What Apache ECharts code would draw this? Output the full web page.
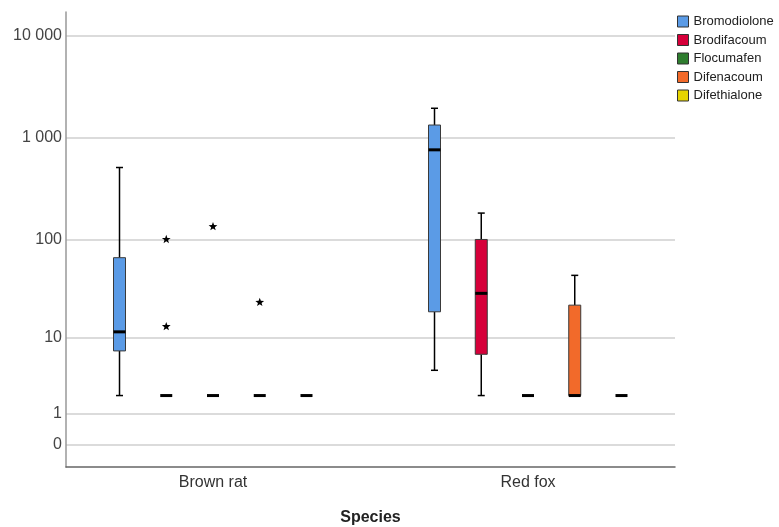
<!DOCTYPE html>
<html>
<head>
<meta charset="utf-8">
<script src="https://cdn.jsdelivr.net/npm/echarts@6/dist/echarts.min.js"></script>
<style>html,body{margin:0;padding:0;background:#fff}#c{width:779px;height:527px}</style>
</head>
<body>
<div id="c"></div>
<script>
// ---- data ----
const species = ['Brown rat', 'Red fox'];
const compounds = ['Bromodiolone', 'Brodifacoum', 'Flocumafen', 'Difenacoum', 'Difethialone'];
const compoundColors = ['#5B9BE6', '#D6003A', '#2F7D2F', '#F26A2A', '#E6D400'];
// [min, Q1, median, Q3, max] per species (Brown rat, Red fox)
const bromodiolone = [[2, 7.2, 11.6, 66, 510], [4.3, 18.8, 760, 1330, 1940]];
const brodifacoum  = [[2, 2, 2, 2, 2], [2, 6.6, 29, 100, 182]];
const flocumafen   = [[2, 2, 2, 2, 2], [2, 2, 2, 2, 2]];
const difenacoum   = [[2, 2, 2, 2, 2], [2, 2, 2, 22, 44]];
const difethialone = [[2, 2, 2, 2, 2], [2, 2, 2, 2, 2]];
// extreme values: [species index, compound index, value]
const extremes = [[0, 1, 100], [0, 1, 13.2], [0, 2, 134], [0, 3, 23.5]];
const yTicks = [0, 1, 10, 100, 1000, 10000];
const yTickLabels = ['0', '1', '10', '100', '1 000', '10 000'];

// ---- helpers ----
const tf = v => Math.log10(v + 1);
const boxData = [bromodiolone, brodifacoum, flocumafen, difenacoum, difethialone];
const FONT = 'Liberation Sans, Arial, sans-serif';
const SPACING = 0.1484;   // fraction of category band between neighbouring boxes
const BOX_W = 12, CAP_W = 7;

function centerX(api, ci, k) {
  const band = api.size([1, 0])[0];
  return api.coord([ci, 0])[0] + (k - 2) * band * SPACING;
}

function boxRenderer(k, color) {
  return function (params, api) {
    const ci = api.value(0);
    const mn = api.value(1), q1 = api.value(2), md = api.value(3), q3 = api.value(4), mx = api.value(5);
    const cx = centerX(api, ci, k);
    const Y = v => api.coord([ci, v])[1];
    const children = [];
    const wStyle = { stroke: '#000', lineWidth: 1.5 };
    if (mx > q3) {
      children.push({ type: 'line', shape: { x1: cx, y1: Y(mx), x2: cx, y2: Y(q3) }, style: wStyle });
      children.push({ type: 'line', shape: { x1: cx - CAP_W / 2, y1: Y(mx), x2: cx + CAP_W / 2, y2: Y(mx) }, style: wStyle });
    }
    if (mn < q1) {
      children.push({ type: 'line', shape: { x1: cx, y1: Y(q1), x2: cx, y2: Y(mn) }, style: wStyle });
      children.push({ type: 'line', shape: { x1: cx - CAP_W / 2, y1: Y(mn), x2: cx + CAP_W / 2, y2: Y(mn) }, style: wStyle });
    }
    if (q3 > q1) {
      children.push({ type: 'rect', shape: { x: cx - BOX_W / 2, y: Y(q3), width: BOX_W, height: Y(q1) - Y(q3) },
        style: { fill: color, stroke: '#3a3a3a', lineWidth: 1 } });
    }
    children.push({ type: 'line', shape: { x1: cx - BOX_W / 2, y1: Y(md), x2: cx + BOX_W / 2, y2: Y(md) },
      style: { stroke: '#000', lineWidth: 3 } });
    return { type: 'group', children: children };
  };
}

function starPoints(cx, cy, R, r) {
  const pts = [];
  for (let i = 0; i < 10; i++) {
    const a = -Math.PI / 2 + i * Math.PI / 5;
    const rad = i % 2 === 0 ? R : r;
    pts.push([cx + rad * Math.cos(a), cy + rad * Math.sin(a)]);
  }
  return pts;
}

function extremeRenderer(params, api) {
  const ci = api.value(0), k = api.value(1), v = api.value(2);
  const cx = centerX(api, ci, k);
  const cy = api.coord([ci, v])[1];
  return { type: 'polygon', shape: { points: starPoints(cx, cy, 4.6, 1.9) }, style: { fill: '#000' } };
}

const yMin = -0.222, yMax = 4.23;

const series = compounds.map((name, k) => ({
  name: name,
  type: 'custom',
  xAxisIndex: 1, yAxisIndex: 1,
  itemStyle: { color: compoundColors[k] },
  renderItem: boxRenderer(k, compoundColors[k]),
  encode: { x: 0, y: [1, 2, 3, 4, 5] },
  data: boxData[k].map((row, ci) => [ci].concat(row.map(tf))),
  silent: true
}));
series.push({
  name: 'extremes',
  type: 'custom',
  xAxisIndex: 1, yAxisIndex: 1,
  renderItem: extremeRenderer,
  encode: { x: 0, y: 2 },
  data: extremes.map(e => [e[0], e[1], tf(e[2])]),
  silent: true
});

const option = {
  animation: false,
  backgroundColor: '#fff',
  textStyle: { fontFamily: FONT },
  grid: [
    { left: 66, right: 104, top: 12, bottom: 60, outerBoundsMode: 'none', containLabel: false },
    { left: 55.5, right: 93.5, top: 12, bottom: 60, outerBoundsMode: 'none', containLabel: false }
  ],
  legend: {
    data: compounds,
    orient: 'vertical',
    left: 677, top: 15,
    padding: 0,
    itemWidth: 11, itemHeight: 11, itemGap: 5.5,
    icon: 'rect',
    itemStyle: { borderColor: '#333', borderWidth: 1 },
    textStyle: { fontSize: 13, color: '#222', fontFamily: FONT }
  },
  xAxis: [
    { type: 'value', gridIndex: 0, min: 0, max: 1,
      axisLine: { show: true, onZero: false, lineStyle: { color: '#666', width: 1.5 } },
      axisTick: { show: false }, axisLabel: { show: false }, splitLine: { show: false } },
    { type: 'category', gridIndex: 1, data: species, boundaryGap: true,
      axisLine: { show: false }, axisTick: { show: false },
      axisLabel: { fontSize: 16, color: '#333', margin: 8, fontFamily: FONT },
      name: 'Species', nameLocation: 'middle', nameGap: 43,
      nameTextStyle: { fontSize: 16, fontWeight: 'bold', color: '#222', fontFamily: FONT } }
  ],
  yAxis: [
    { type: 'value', gridIndex: 0, min: yMin, max: yMax,
      axisLine: { show: true, onZero: false, lineStyle: { color: '#999', width: 1.5 } },
      axisTick: { show: false, customValues: yTicks.map(tf) },
      axisLabel: { customValues: yTicks.map(tf), fontSize: 16, color: '#444', margin: 4, fontFamily: FONT,
        formatter: function (val) {
          for (let i = 0; i < yTicks.length; i++) {
            if (Math.abs(tf(yTicks[i]) - val) < 1e-6) return yTickLabels[i];
          }
          return '';
        } },
      splitLine: { show: true, lineStyle: { color: '#cfcfcf', width: 1.5 } } },
    { type: 'value', gridIndex: 1, min: yMin, max: yMax, show: false,
      splitLine: { show: false } }
  ],
  series: series
};

const chart = echarts.init(document.getElementById('c'), null, { renderer: 'canvas' });
chart.setOption(option);
</script>
</body>
</html>
